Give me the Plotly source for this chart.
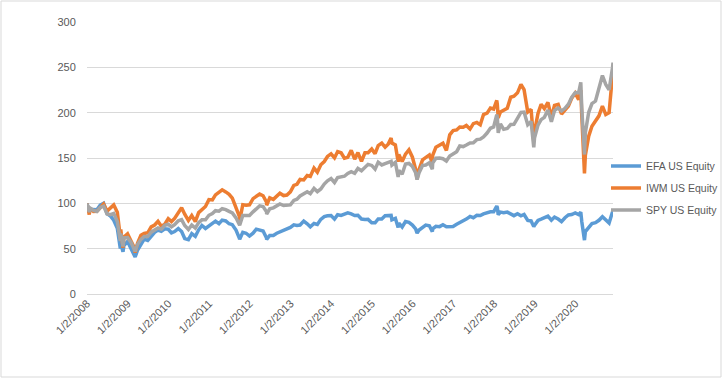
import plotly.graph_objects as go

dates = [
    "2008-01-02", "2008-01-22", "2008-01-31", "2008-02-29", "2008-03-31", "2008-04-30", "2008-05-30", "2008-06-30",
    "2008-07-31", "2008-08-29", "2008-09-30", "2008-10-27", "2008-10-31", "2008-11-20", "2008-11-28", "2008-12-31",
    "2009-01-30", "2009-02-27", "2009-03-09", "2009-03-31", "2009-04-30", "2009-05-29", "2009-06-30", "2009-07-31",
    "2009-08-31", "2009-09-30", "2009-10-30", "2009-11-30", "2009-12-31",
    "2010-01-29", "2010-02-26", "2010-03-31", "2010-04-30", "2010-05-28", "2010-06-30", "2010-07-30", "2010-08-31",
    "2010-09-30", "2010-10-29", "2010-11-30", "2010-12-31",
    "2011-01-31", "2011-02-28", "2011-03-31", "2011-04-29", "2011-05-31", "2011-06-30", "2011-07-29", "2011-08-31",
    "2011-09-30", "2011-10-03", "2011-10-31", "2011-11-30", "2011-12-30",
    "2012-01-31", "2012-02-29", "2012-03-30", "2012-04-30", "2012-05-31", "2012-06-01", "2012-06-29", "2012-07-31",
    "2012-08-31", "2012-09-28", "2012-10-31", "2012-11-30", "2012-12-31",
    "2013-01-31", "2013-02-28", "2013-03-28", "2013-04-30", "2013-05-31", "2013-06-28", "2013-07-31", "2013-08-30",
    "2013-09-30", "2013-10-31", "2013-11-29", "2013-12-31",
    "2014-01-31", "2014-02-28", "2014-03-31", "2014-04-30", "2014-05-30", "2014-06-30", "2014-07-31", "2014-08-29",
    "2014-09-30", "2014-10-31", "2014-11-28", "2014-12-31",
    "2015-01-30", "2015-02-27", "2015-03-31", "2015-04-30", "2015-05-29", "2015-06-23", "2015-06-30", "2015-07-31",
    "2015-08-25", "2015-08-31", "2015-09-30", "2015-10-30", "2015-11-30", "2015-12-31",
    "2016-01-29", "2016-02-11", "2016-02-29", "2016-03-31", "2016-04-29", "2016-05-31", "2016-06-27", "2016-06-30",
    "2016-07-29", "2016-08-31", "2016-09-30", "2016-10-31", "2016-11-30", "2016-12-30",
    "2017-01-31", "2017-02-28", "2017-03-31", "2017-04-28", "2017-05-31", "2017-06-30", "2017-07-31", "2017-08-31",
    "2017-09-29", "2017-10-31", "2017-11-30", "2017-12-29",
    "2018-01-26", "2018-01-31", "2018-02-08", "2018-02-28", "2018-03-29", "2018-04-30", "2018-05-31", "2018-06-29",
    "2018-07-31", "2018-08-31", "2018-09-28", "2018-10-31", "2018-11-30", "2018-12-24", "2018-12-31",
    "2019-01-31", "2019-02-28", "2019-03-29", "2019-04-30", "2019-05-31", "2019-06-28", "2019-07-31", "2019-08-30",
    "2019-09-30", "2019-10-31", "2019-11-29", "2019-12-31",
    "2020-01-31", "2020-02-19", "2020-02-28", "2020-03-23", "2020-03-31", "2020-04-30", "2020-05-29", "2020-06-30",
    "2020-07-31", "2020-08-31", "2020-09-30", "2020-10-30", "2020-11-30", "2020-12-04",
]

efa = [
    100, 89.7, 93.3, 92.8, 92.8, 98.1, 100.1, 88.6, 85.9, 81.4, 72.6, 50.1, 55.7, 46.5, 53.3, 57.9,
    49.8, 43.7, 40.8, 48.5, 53.8, 60.6, 59.1, 64.4, 68.1, 70.6, 69.2, 71.9, 71.4,
    67.5, 68.9, 72.2, 68.9, 61.2, 60.0, 66.6, 63.6, 70.8, 75.6, 72.3, 75.1,
    76.8, 80.3, 77.5, 81.5, 80.6, 77.5, 76.5, 70.6, 61.7, 60.3, 68.0, 67.0, 63.9,
    67.1, 71.5, 70.8, 69.5, 61.9, 60.1, 64.5, 64.6, 67.0, 68.4, 69.7, 71.7, 73.4,
    76.3, 75.7, 76.1, 80.4, 77.4, 74.1, 77.7, 76.6, 82.3, 85.3, 86.2, 86.6,
    82.6, 87.5, 86.7, 87.7, 89.5, 88.3, 86.5, 86.7, 82.7, 82.2, 82.3, 78.5,
    78.6, 82.8, 82.8, 86.3, 86.2, 86.7, 81.9, 83.5, 73.4, 78.1, 73.9, 79.9, 79.0, 76.0,
    71.7, 67.1, 70.5, 73.7, 76.0, 75.2, 68.8, 72.0, 74.6, 74.3, 76.3, 74.2, 74.5, 74.5,
    76.9, 78.7, 80.4, 82.6, 85.5, 84.1, 86.7, 86.5, 88.4, 89.8, 90.6, 90.7,
    97.0, 95.4, 87.5, 90.3, 89.7, 90.3, 88.8, 86.4, 88.5, 86.3, 87.7, 81.2, 80.6, 74.3, 75.9,
    81.2, 82.6, 83.7, 85.9, 81.4, 84.8, 82.7, 79.9, 84.1, 87.2, 87.7, 89.5,
    87.6, 90.3, 79.7, 59.4, 68.9, 73.4, 77.7, 78.6, 81.3, 85.2, 82.1, 78.2, 90.7, 92.6,
]

iwm = [
    100, 87.6, 94.7, 91.1, 91.2, 94.8, 99.1, 91.5, 94.8, 98.3, 90.3, 62.5, 71.3, 51.1, 62.8, 66.3,
    58.8, 51.7, 45.6, 56.2, 64.7, 66.7, 67.5, 74.0, 76.1, 80.2, 74.8, 77.0, 83.0,
    79.9, 83.4, 90.2, 95.2, 88.0, 81.0, 86.5, 79.9, 89.8, 93.4, 96.5, 104.1,
    103.7, 109.3, 112.0, 114.9, 112.6, 110.0, 105.8, 96.4, 85.5, 80.9, 98.4, 97.9, 98.4,
    105.2, 107.6, 110.2, 108.4, 101.2, 97.9, 106.0, 104.4, 107.8, 111.2, 108.6, 109.2, 112.7,
    119.8, 121.0, 126.3, 125.8, 130.7, 129.7, 138.8, 134.3, 142.5, 146.1, 151.7, 154.6,
    150.1, 157.1, 155.8, 149.7, 150.7, 158.4, 148.7, 155.9, 146.2, 155.8, 155.8, 160.0,
    154.7, 163.7, 166.4, 162.0, 165.6, 172.0, 166.5, 164.4, 145.8, 153.9, 146.2, 154.3, 159.1, 150.9,
    137.5, 126.6, 137.3, 147.9, 150.1, 153.4, 144.6, 153.0, 161.9, 164.7, 166.3, 158.3, 175.6, 180.2,
    180.9, 184.2, 183.9, 185.9, 181.9, 187.9, 189.2, 186.6, 197.9, 199.5, 205.0, 204.0,
    213.5, 209.2, 194.3, 200.8, 203.2, 204.8, 217.0, 218.2, 221.9, 231.2, 225.4, 200.7, 203.6, 168.3, 179.2,
    199.2, 209.2, 204.5, 211.3, 194.7, 208.1, 209.2, 198.5, 202.3, 207.4, 215.8, 221.5,
    214.3, 224.8, 196.0, 133.0, 153.1, 174.0, 185.1, 191.4, 196.5, 207.3, 198.0, 200.0, 241.6, 248.0,
]

spy = [
    100, 90.4, 94.8, 92.3, 91.1, 95.4, 96.9, 88.3, 87.5, 88.9, 80.0, 58.6, 66.8, 52.4, 61.8, 62.2,
    57.1, 51.0, 47.0, 54.9, 60.3, 63.4, 63.4, 68.2, 70.7, 72.9, 71.5, 75.8, 76.9,
    74.1, 76.4, 80.7, 82.0, 75.5, 71.2, 76.1, 72.7, 78.7, 81.8, 81.8, 86.8,
    88.8, 91.9, 91.4, 94.1, 93.1, 91.1, 89.4, 84.0, 78.1, 75.8, 86.6, 86.2, 86.6,
    90.6, 94.5, 97.2, 96.5, 90.7, 88.0, 93.9, 95.0, 97.2, 99.4, 97.6, 98.0, 98.3,
    103.3, 104.6, 108.1, 110.2, 112.8, 110.7, 116.4, 112.9, 115.9, 121.3, 124.9, 127.4,
    123.0, 128.5, 129.0, 129.9, 133.0, 135.0, 133.2, 138.5, 135.9, 139.2, 143.0, 141.8,
    137.7, 145.4, 142.4, 143.9, 145.7, 146.3, 142.1, 145.2, 129.0, 136.4, 132.2, 143.4, 144.0, 140.7,
    133.7, 126.2, 133.6, 141.8, 142.3, 144.8, 137.7, 144.6, 149.8, 150.0, 149.2, 146.7, 152.1, 154.2,
    157.0, 163.2, 162.6, 164.3, 166.6, 166.8, 170.3, 170.8, 173.3, 177.5, 182.8, 184.2,
    197.8, 194.5, 177.7, 187.5, 181.6, 182.5, 186.9, 187.2, 194.1, 200.3, 200.6, 186.7, 190.2, 161.7, 172.4,
    186.3, 192.3, 194.9, 202.9, 190.0, 202.2, 205.2, 201.8, 204.8, 209.3, 216.9, 222.1,
    222.0, 233.4, 204.4, 153.8, 177.9, 200.4, 210.0, 212.8, 225.3, 241.0, 231.1, 225.3, 249.8, 255.2,
]

series_names = ["EFA US Equity", "IWM US Equity", "SPY US Equity"]
series_colors = ["#5B9BD5", "#ED7D31", "#A5A5A5"]

tick_vals = ["%d-01-02" % y for y in range(2008, 2021)]
tick_text = ["1/2/%d" % y for y in range(2008, 2021)]
y_ticks = [0, 50, 100, 150, 200, 250, 300]

W, H = 725, 379
L, R, T, B = 87, 112, 22, 85
pw, ph = W - L - R, H - T - B

fig = go.Figure()
for name, vals, col in zip(series_names, [efa, iwm, spy], series_colors):
    fig.add_trace(go.Scatter(x=dates, y=vals, name=name, mode="lines",
                             legendgroup=name,
                             line=dict(color=col, width=3.5)))

font_family = "Liberation Sans, Arial, sans-serif"
fig.update_layout(
    width=W, height=H,
    margin=dict(l=L, r=R, t=T, b=B, autoexpand=False),
    paper_bgcolor="white", plot_bgcolor="white",
    font=dict(family=font_family, size=11, color="#595959"),
    showlegend=True,
    legend=dict(x=(606 - L) / pw, y=(294 - 188) / ph, xanchor="left", yanchor="middle",
                font=dict(size=10.5, color="#595959"), tracegroupgap=3,
                bgcolor="rgba(0,0,0,0)"),
    xaxis=dict(type="date", range=["2008-01-02", "2020-12-04"], automargin=False,
               tickvals=tick_vals, ticktext=tick_text, tickangle=-45,
               showgrid=False, zeroline=False, showline=False,
               ticks="", tickfont=dict(size=11, color="#595959")),
    yaxis=dict(range=[0, 300], tickvals=y_ticks, showgrid=True, gridcolor="#D9D9D9",
               gridwidth=1, zeroline=True, zerolinecolor="#D9D9D9", zerolinewidth=1,
               showline=False, ticks="outside", ticklen=8, tickcolor="rgba(0,0,0,0)",
               automargin=False, tickfont=dict(size=11, color="#595959")),
    shapes=[dict(type="rect", xref="paper", yref="paper",
                 x0=(1 - L) / pw, x1=(721 - L) / pw,
                 y0=(H - B - 377) / ph, y1=(H - B - 1) / ph,
                 line=dict(color="#D9D9D9", width=1), fillcolor="rgba(0,0,0,0)", layer="below")],
)

fig.write_html("out.html", config={"displayModeBar": False},
               post_script="document.body.style.margin='0';")
